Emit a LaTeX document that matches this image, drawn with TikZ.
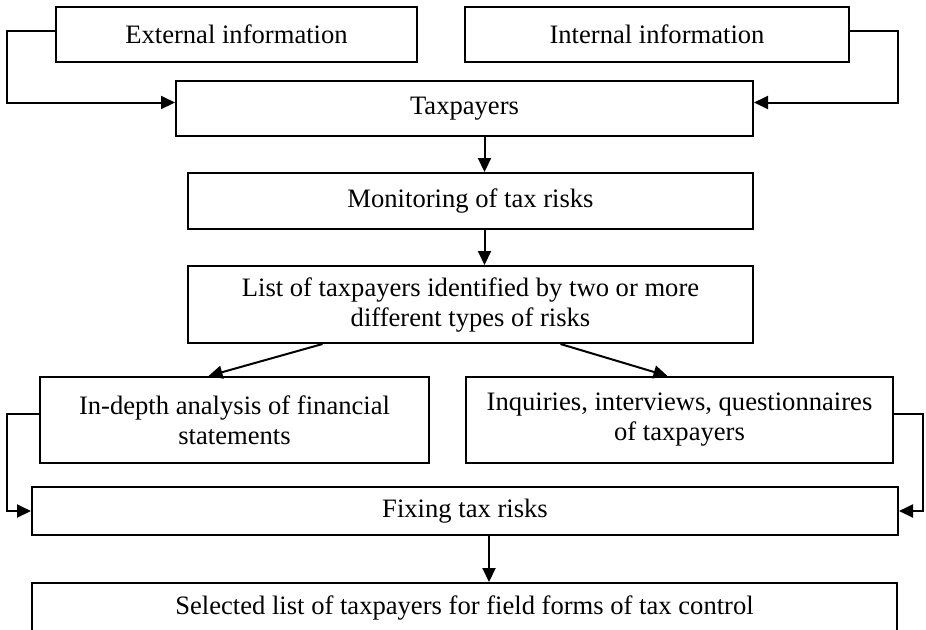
\documentclass[tikz,border=0pt]{standalone}
\usepackage{fontspec}
\setmainfont{Liberation Serif}
\usetikzlibrary{arrows.meta,calc}
\tikzset{
   box/.style={draw,rectangle,align=center,inner sep=0pt,font=\fontsize{13.3pt}{15pt}\selectfont},
   arr/.style={-{Triangle[length=7pt,width=6.5pt]}},
   fb/.style={-{Triangle[length=7pt,width=6.5pt]}},
}

\begin{document}
\begin{tikzpicture}[x=0.5pt,y=-0.5pt,line width=1pt]
        \clip (0,0) rectangle (926,629);
        \useasboundingbox (0,0) rectangle (926,629);

        \node[box,minimum width=180.5pt,minimum height=27.5pt] (ext) at (236.5,34.5) {External information};
        \node[box,minimum width=192pt,minimum height=27.5pt] (int) at (657,34.5) {Internal information};
        \node[box,minimum width=288.5pt,minimum height=27.5pt] (tax) at (464.5,108.5) {Taxpayers};
        \node[box,minimum width=282.5pt,minimum height=28pt] (mon) at (470.5,201) {Monitoring of tax risks};
        \node[box,minimum width=282.5pt,minimum height=38.5pt] (list) at (470.5,304.5) {List of taxpayers identified by two or more\\ different types of risks};

        \node[box,minimum width=194.5pt,minimum height=43pt] (depth) at (234.5,420) {In-depth analysis of financial\\ statements};
        \node[box,minimum width=213.5pt,minimum height=43pt] (inq) at (679.5,420) {Inquiries, interviews, questionnaires\\ of taxpayers};
        \node[box,minimum width=433pt,minimum height=24pt] (fix) at (465,511) {Fixing tax risks};
        \node[box,minimum width=432.5pt,minimum height=25pt] (sel) at (464.5,608) {Selected list of taxpayers for field forms of tax control};

        % information flows into taxpayers
        \draw[fb] ([yshift=2pt]ext.west) -- ++(-48,0) |- ([yshift=3pt]tax.west);
        \draw[fb] ([yshift=2pt]int.east) -- ++(48,0) |- ([yshift=3pt]tax.east);

        \draw[arr] ([xshift=10pt]tax.south) -- ([xshift=10pt]tax.south |- mon.north);
        \draw[arr] ([xshift=7pt]mon.south) -- ([xshift=7pt]mon.south |- list.north);

        \draw[arr] ([xshift=-74pt]list.south) -- ([xshift=-13pt]depth.north);
        \draw[arr] ([xshift=45pt]list.south) -- ([xshift=-6pt]inq.north);

        % both checks lead to fixing
        \draw[fb] ([yshift=3pt]depth.west) -- ++(-32,0) |- (fix.west);
        \draw[fb] ([yshift=3pt]inq.east) -- ++(29,0) |- (fix.east);

        \draw[arr] ([xshift=12pt]fix.south) -- ([xshift=12pt]fix.south |- sel.north);
    \end{tikzpicture}
\end{document}
